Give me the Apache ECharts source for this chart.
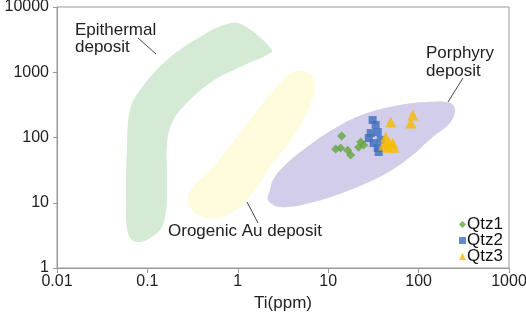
<!DOCTYPE html>
<html>
<head>
<meta charset="utf-8">
<script src="https://cdn.jsdelivr.net/npm/echarts@6/dist/echarts.min.js"></script>
<style>
html,body{margin:0;padding:0;background:#fff;}
#chart{width:526px;height:313px;}
</style>
</head>
<body>
<div id="chart"></div>
<script>
// Axis ticks
const xTicks = [0.01, 0.1, 1, 10, 100, 1000];
const yTicks = [1, 10, 100, 1000, 10000];

// Field outlines, [Ti(ppm), Al(ppm)]
const epithermalZone = [[2.39,2193],[1.14,5300],[0.76,5490],[0.382,3470],[0.165,1540],[0.0828,535],[0.0642,264],[0.0594,64],[0.058,11],[0.061,3.44],[0.0767,2.5],[0.128,3.44],[0.157,6.05],[0.165,20.1],[0.165,82],[0.187,167],[0.248,293],[0.493,684],[1.06,1203],[2.10,1838]];
const orogenicZone = [[6.79,846],[5.82,1009],[4.08,1009],[2.93,684],[1.90,338],[1.06,117],[0.532,35.3],[0.319,17.4],[0.281,12.2],[0.311,7.74],[0.456,5.84],[0.685,6.05],[1.06,8.6],[1.63,17.4],[2.45,40.7],[4.08,102],[5.98,264],[7.14,594]];
const porphyryZone = [[2.27,15.7],[2.16,11.0],[2.93,8.6],[6.29,9.9],[17.4,15.7],[44.7,28.6],[80.4,50.2],[144,102],[222,167],[253,264],[222,338],[124,350],[62.2,315],[26.9,237],[12.5,145],[5.82,71.5],[3.16,35.3],[2.45,22.3]];

// Samples [Ti(ppm), Al(ppm)]
const qtz1 = [[14.1,105],[12.1,66.6],[13.7,69],[16.4,64],[17.7,54],[22.9,85],[24.7,77],[21.7,71]];
const qtz2 = [[31.0,185],[33.5,156],[29.5,117],[35.3,121],[28.1,98],[31.8,82],[35.3,69],[36.2,60],[38.1,92]];
const qtz3 = [[49.2,173],[86.3,221],[82,167],[43.3,102],[46.7,85],[51.8,82],[41.1,77],[53.1,71],[45.6,71]];

const zones = [
  {pts: epithermalZone, color: '#d4ead5'},
  {pts: orogenicZone, color: '#fefcdc'},
  {pts: porphyryZone, color: '#d2cde8'}
];

const FONT = 'Liberation Sans, Arial, sans-serif';
const chart = echarts.init(document.getElementById('chart'), null, {renderer: 'canvas'});
const fmt = v => String(parseFloat(Number(v).toPrecision(6)));

chart.setOption({
  backgroundColor: '#ffffff',
  animation: false,
  textStyle: {fontFamily: FONT},
  grid: {left: 57, right: 17, top: 7, bottom: 45, show: true, borderColor: '#999', borderWidth: 1,
         containLabel: false, outerBoundsMode: 'none'},
  xAxis: {
    type: 'log', logBase: 10, min: xTicks[0], max: xTicks[xTicks.length-1],
    name: 'Ti(ppm)', nameLocation: 'middle', nameGap: 23,
    nameTextStyle: {fontSize: 17, color: '#222', fontFamily: FONT},
    axisLine: {lineStyle: {color: '#999', width: 1}},
    axisTick: {show: true, length: 5, lineStyle: {color: '#999'}},
    minorTick: {show: false},
    splitLine: {show: false},
    axisLabel: {fontSize: 16, color: '#222', margin: 6, formatter: fmt, fontFamily: FONT}
  },
  yAxis: {
    type: 'log', logBase: 10, min: yTicks[0], max: yTicks[yTicks.length-1],
    name: 'Al(ppm)', nameLocation: 'middle', nameGap: 47, nameRotate: 90,
    nameTextStyle: {fontSize: 17, color: '#222', fontFamily: FONT},
    axisLine: {lineStyle: {color: '#999', width: 1}},
    axisTick: {show: true, length: 4, lineStyle: {color: '#999'}},
    minorTick: {show: false},
    splitLine: {show: false},
    axisLabel: {fontSize: 16, color: '#222', margin: 8, formatter: fmt, fontFamily: FONT}
  },
  legend: {
    orient: 'vertical', left: 454, top: 211, itemGap: -1,
    itemWidth: 7, itemHeight: 7,
    textStyle: {fontSize: 17, color: '#111', fontFamily: FONT, padding: [0,0,0,-4]},
    data: [
      {name: 'Qtz1', icon: 'diamond'},
      {name: 'Qtz2', icon: 'rect'},
      {name: 'Qtz3', icon: 'triangle'}
    ]
  },
  series: [
    {
      type: 'custom', silent: true, z: 1,
      data: zones.map((z, i) => [i, z.pts[0][0], z.pts[0][1]]),
      encode: {x: 1, y: 2},
      renderItem: (params, api) => {
        const z = zones[params.dataIndex];
        const pts = z.pts.map(p => api.coord(p));
        return {type: 'polygon', shape: {points: pts, smooth: 0.4}, style: {fill: z.color, stroke: null}};
      }
    },
    {name: 'Qtz1', type: 'scatter', symbol: 'diamond', symbolSize: 9, z: 5,
     itemStyle: {color: '#63a63b'}, data: qtz1},
    {name: 'Qtz2', type: 'scatter', symbol: 'rect', symbolSize: 8, z: 5,
     itemStyle: {color: '#3c6ebd'}, data: qtz2},
    {name: 'Qtz3', type: 'scatter', symbol: 'triangle', symbolSize: 11, z: 5,
     itemStyle: {color: '#f7bc00'}, data: qtz3}
  ],
  graphic: [
    {type: 'text', left: 75, top: 22, style: {text: 'Epithermal\ndeposit', font: '17px ' + FONT, fill: '#222', lineHeight: 17}},
    {type: 'line', shape: {x1: 138, y1: 38, x2: 156, y2: 54}, style: {stroke: '#444', lineWidth: 1}},
    {type: 'text', left: 168, top: 223, style: {text: 'Orogenic Au deposit', font: '17px ' + FONT, fill: '#222'}},
    {type: 'line', shape: {x1: 247, y1: 202, x2: 258, y2: 223}, style: {stroke: '#444', lineWidth: 1}},
    {type: 'text', left: 426, top: 44, style: {text: 'Porphyry\ndeposit', font: '17px ' + FONT, fill: '#222', lineHeight: 18}},
    {type: 'line', shape: {x1: 463, y1: 78, x2: 448, y2: 102}, style: {stroke: '#444', lineWidth: 1}}
  ]
});
</script>
</body>
</html>
